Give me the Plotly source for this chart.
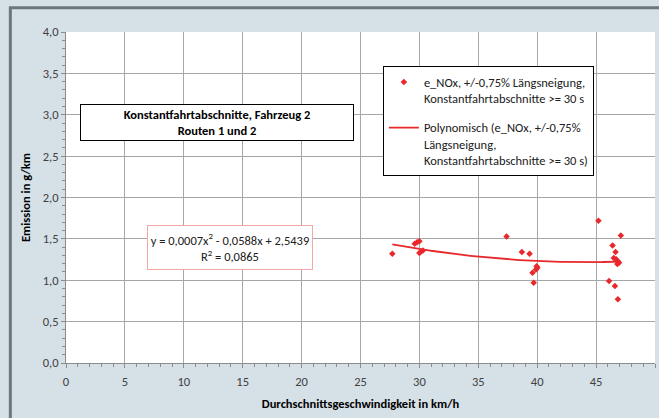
import numpy as np
import plotly.graph_objects as go

# Data
speed_kmh = [27.7, 29.6, 29.8, 30.0, 30.0, 30.1, 30.3,
             37.4, 38.7, 39.35, 39.6, 39.7, 39.9, 39.95, 40.02,
             45.2, 47.1, 46.4, 46.65, 46.5, 46.7, 46.85, 46.8, 46.95, 46.1, 46.6, 46.85]
emission_gkm = [1.32, 1.44, 1.46, 1.47, 1.33, 1.34, 1.36,
                1.53, 1.34, 1.32, 1.09, 0.97, 1.13, 1.17, 1.15,
                1.72, 1.54, 1.42, 1.34, 1.27, 1.255, 1.23, 1.195, 1.21, 0.99, 0.93, 0.77]

x_ticks = [0, 5, 10, 15, 20, 25, 30, 35, 40, 45, 50]
y_ticks = [0.0, 0.5, 1.0, 1.5, 2.0, 2.5, 3.0, 3.5, 4.0]

series_name = "e_NOx, +/-0,75% Längsneigung,<br>Konstantfahrtabschnitte >= 30 s"
trend_name = "Polynomisch (e_NOx, +/-0,75%<br>Längsneigung,<br>Konstantfahrtabschnitte >= 30 s)"
chart_title = "<b>Konstantfahrtabschnitte, Fahrzeug 2<br>Routen 1 und 2</b>"
equation = "y = 0,0007x<sup>2</sup> - 0,0588x + 2,5439<br>R<sup>2</sup> = 0,0865"

# polynomial (order 2) trend line, as in the original spreadsheet
coef = np.polyfit(speed_kmh, emission_gkm, 2)
xt = np.linspace(min(speed_kmh), max(speed_kmh), 80)
yt = np.polyval(coef, xt)

FONT = "Calibri, Carlito, Lato, sans-serif"
RED = "#e8282b"
BG = "#d6e1e7"

fig = go.Figure()
fig.add_trace(go.Scatter(
    x=speed_kmh, y=emission_gkm, mode="markers", name=series_name, legendgroup="a",
    marker=dict(symbol="diamond", size=5, color=RED)))
fig.add_trace(go.Scatter(
    x=xt, y=yt, mode="lines", name=trend_name, legendgroup="b",
    line=dict(color=RED, width=1.8)))

fig.update_layout(
    width=659, height=418,
    margin=dict(l=66, r=4, t=32, b=55, autoexpand=False),
    paper_bgcolor=BG, plot_bgcolor="white",
    separators=",.",
    font=dict(family=FONT, size=12.5, color="#404040"),
    showlegend=True,
    legend=dict(x=0.538, y=0.896, xanchor="left", yanchor="top",
                bgcolor="white", bordercolor="black", borderwidth=1,
                font=dict(family=FONT, size=12.5, color="#202020"),
                valign="top", tracegroupgap=10, itemwidth=30),
)
fig.update_xaxes(
    range=[0, 50], tickvals=x_ticks, showgrid=True, gridcolor="#a6a6a6", gridwidth=1,
    showline=True, linecolor="#8c8c8c", linewidth=1, zeroline=False, automargin=False,
    ticks="outside", ticklen=4, tickcolor="#8c8c8c", ticklabelstandoff=3,
    minor=dict(dtick=1, ticks="outside", ticklen=3, tickcolor="#8c8c8c", showgrid=False),
    title=dict(text="<b>Durchschnittsgeschwindigkeit in km/h</b>", standoff=11,
               font=dict(family=FONT, size=12.5, color="black")),
)
fig.update_yaxes(
    range=[0, 4], tickvals=y_ticks, tickformat=".1f", showgrid=True, gridcolor="#a6a6a6", gridwidth=1,
    showline=True, linecolor="#8c8c8c", linewidth=1, zeroline=False, automargin=False,
    ticks="outside", ticklen=4, tickcolor="#8c8c8c",
    minor=dict(dtick=0.1, ticks="outside", ticklen=3, tickcolor="#8c8c8c", showgrid=False),
    title=dict(text="<b>Emission in g/km</b>", standoff=9,
               font=dict(family=FONT, size=12.5, color="black")),
)

# outer chart frame
fig.add_shape(type="rect", xref="paper", yref="paper",
              x0=-0.0945, y0=-0.6, x1=1.5, y1=1.073,
              line=dict(color="#6b777d", width=3), fillcolor="rgba(0,0,0,0)", layer="below")

fig.add_annotation(text=chart_title, xref="x", yref="y", x=12.85, y=2.91,
                   showarrow=False, bgcolor="white", bordercolor="black", borderwidth=1,
                   borderpad=0, width=272, height=35,
                   font=dict(family=FONT, size=12.5, color="black"))
fig.add_annotation(text=equation, xref="x", yref="y", x=13.95, y=1.40,
                   showarrow=False, bgcolor="white", bordercolor="#f4a6a6", borderwidth=1,
                   borderpad=0, width=164, height=43,
                   font=dict(family=FONT, size=12.5, color="#202020"))

fig.write_html("out.html", config={"displayModeBar": False},
               post_script="document.body.style.margin='0';document.body.style.overflow='hidden';")
